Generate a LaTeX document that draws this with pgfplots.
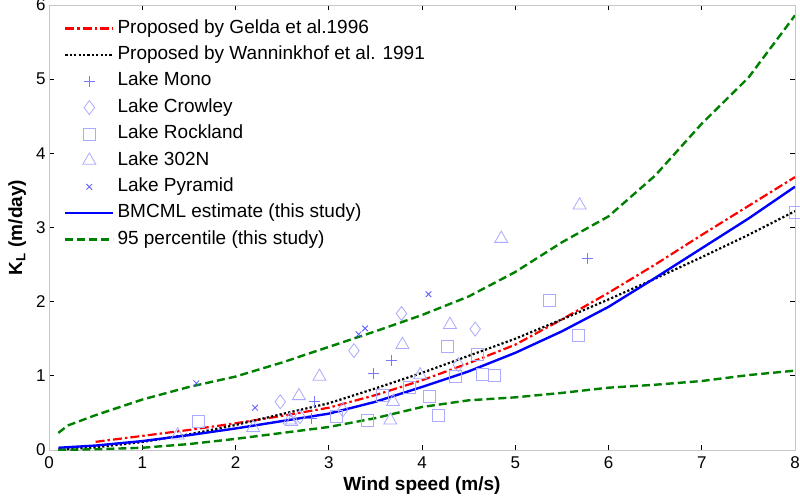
\documentclass[border=0pt]{standalone}
\usepackage{pgfplots}
\pgfplotsset{compat=1.18}
\usepackage{fontspec}
\setmainfont{Liberation Sans}
\definecolor{mk}{RGB}{170,170,255}
\definecolor{mkd}{RGB}{90,90,255}
\definecolor{mkm}{RGB}{120,120,255}
\definecolor{dgreen}{RGB}{0,128,0}
\pgfplotsset{
  linelegend/.style={legend image code/.code={\draw[##1] (0pt,0pt) -- (48pt,0pt);}},
  marklegend/.style={legend image code/.code={\draw[mark repeat=2,mark phase=2,##1] plot coordinates {(0pt,0pt)(24pt,0pt)(48pt,0pt)};}},
}
\begin{document}
\begin{tikzpicture}
\begin{axis}[
  scale only axis, width=746pt, height=445pt,
  xmin=0, xmax=8, ymin=0, ymax=6,
  xtick={0,1,...,8}, ytick={0,1,...,6},
  axis line style={gray!45, line width=1pt},
  tick style={black, line width=0.8pt},
  major tick length=5pt,
  tick align=inside,
  /pgf/number format/assume math mode=true,
  tick label style={font=\fontsize{17}{20}\selectfont},
  xticklabel style={yshift=-3pt},
  xlabel={Wind speed (m/s)},
  ylabel={K\textsubscript{L} (m/day)},
  label style={font=\fontsize{19}{22}\selectfont\bfseries},
  xlabel style={yshift=-1pt},
  ylabel style={yshift=3pt},
  legend cell align=left,
  legend style={draw=none, fill=none, at={(axis description cs:0.016,0.972)}, anchor=north west,
    font=\fontsize{19}{22}\selectfont, row sep=8.9pt,
    nodes={inner xsep=3pt, inner ysep=0pt, text height=13.5pt, text depth=4pt}},
]
% Gelda et al. 1996
\addplot[red, line width=2.2pt, dash pattern=on 9pt off 3pt on 2.5pt off 3pt, linelegend] coordinates {
(0.5,0.11) (1,0.19) (1.5,0.27) (2,0.36) (2.5,0.46) (3,0.57) (3.5,0.74) (4,0.94)
(4.5,1.17) (5,1.42) (5.5,1.76) (6,2.12) (6.5,2.50) (7,2.90) (7.5,3.29) (8,3.68)};
\addlegendentry{Proposed by Gelda et al.1996}
% Wanninkhof et al. 1991
\addplot[black, line width=2.2pt, dash pattern=on 2.2pt off 2.2pt, linelegend] coordinates {
(0.1,0.003) (0.5,0.035) (1,0.108) (1.5,0.21) (2,0.337) (2.5,0.485) (3,0.63) (3.5,0.83)
(4,1.04) (4.5,1.27) (5,1.50) (5.5,1.76) (6,2.03) (6.5,2.31) (7,2.60) (7.5,2.90) (8,3.22)};
\addlegendentry{Proposed by Wanninkhof et al. 1991}
% Lake Mono
\addplot[only marks, mark=+, mark size=5.5pt, color=mkm, line width=1pt, marklegend] coordinates {
(3.67,1.21) (3.48,1.03) (5.78,2.58) (2.85,0.65) (2.82,0.42)};
\addlegendentry{Lake Mono}
% Lake Crowley
\addplot[only marks, mark=diamond, mark size=7pt, color=mk, line width=0.8pt, marklegend] coordinates {
(3.27,1.34) (2.48,0.65) (3.78,1.84) (4.57,1.63) (4.39,1.15) (3.15,0.54) (2.69,0.45)};
\addlegendentry{Lake Crowley}
% Lake Rockland
\addplot[only marks, mark=square, mark size=6pt, color=mk, line width=0.8pt, marklegend] coordinates {
(5.37,2.02) (4.27,1.40) (5.68,1.55) (4.59,1.29) (4.65,1.02) (4.78,1.00) (4.36,0.99)
(4.08,0.72) (4.18,0.47) (3.87,0.85) (3.58,0.74) (8.0,3.21) (3.41,0.40) (3.08,0.45) (1.60,0.38)};
\addlegendentry{Lake Rockland}
% Lake 302N
\addplot[only marks, mark=triangle, mark size=7.5pt, color=mk, line width=0.8pt, marklegend] coordinates {
(5.69,3.30) (4.85,2.85) (4.30,1.69) (3.79,1.42) (3.98,1.01) (3.69,0.65) (2.90,0.99)
(2.68,0.73) (2.60,0.38) (1.38,0.20) (2.19,0.30) (2.58,0.40) (3.66,0.40)};
\addlegendentry{Lake 302N}
% Lake Pyramid
\addplot[only marks, mark=x, mark size=4pt, color=mkd, line width=0.8pt, marklegend] coordinates {
(1.58,0.90) (2.21,0.57) (4.07,2.10) (3.32,1.56) (3.39,1.64)};
\addlegendentry{Lake Pyramid}
% BMCML estimate
\addplot[blue, line width=2.4pt, linelegend] coordinates {
(0.1,0.03) (0.5,0.06) (1,0.12) (1.5,0.20) (2,0.29) (2.5,0.39) (3,0.49) (3.5,0.65)
(4,0.85) (4.5,1.06) (5,1.31) (5.5,1.60) (6,1.93) (6.5,2.32) (7,2.72) (7.5,3.12) (8,3.55)};
\addlegendentry{BMCML estimate (this study)}
% 95 percentile upper
\addplot[dgreen, line width=2.4pt, dash pattern=on 8pt off 4pt, linelegend] coordinates {
(0.1,0.23) (0.2,0.33) (0.5,0.47) (1,0.68) (1.5,0.85) (2,0.99) (2.5,1.18) (3,1.39)
(3.5,1.60) (4,1.82) (4.5,2.07) (5,2.40) (5.5,2.80) (6,3.15) (6.5,3.70) (7,4.40) (7.5,5.02) (8,5.86)};
\addlegendentry{95 percentile (this study)}
% 95 percentile lower
\addplot[dgreen, line width=2.4pt, dash pattern=on 8pt off 4pt, forget plot] coordinates {
(0.1,0.00) (0.5,0.01) (1,0.03) (1.5,0.08) (2,0.15) (2.5,0.23) (3,0.31) (3.5,0.43)
(4,0.58) (4.5,0.67) (5,0.71) (5.5,0.77) (6,0.84) (6.5,0.88) (7,0.93) (7.5,1.01) (8,1.07)};
\end{axis}
\pgfresetboundingbox
\path (-49pt,-45pt) rectangle (751pt,450pt);
\end{tikzpicture}
\end{document}
